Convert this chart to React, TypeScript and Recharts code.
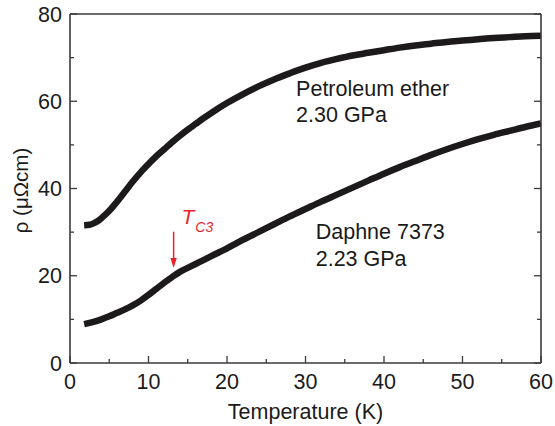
import React from 'react';
import { LineChart, Line, XAxis, YAxis, ReferenceLine, ReferenceDot } from 'recharts';

const petroleumT = [1.8, 2.5, 3, 3.5, 4, 4.5, 5, 6, 7, 8, 9, 10, 11, 12, 13, 14, 15, 16, 17, 18, 19, 20, 22, 24, 26, 28, 30, 32, 34, 36, 38, 40, 42, 44, 46, 48, 50, 52, 54, 56, 58, 60];
const petroleumRho = [31.6, 31.7, 32.0, 32.5, 33.2, 34.0, 34.9, 37.0, 39.3, 41.6, 43.7, 45.6, 47.4, 49.0, 50.6, 52.1, 53.5, 54.8, 56.1, 57.3, 58.5, 59.6, 61.6, 63.4, 65.0, 66.4, 67.7, 68.8, 69.7, 70.5, 71.1, 71.7, 72.3, 72.8, 73.2, 73.6, 73.9, 74.2, 74.5, 74.7, 74.9, 75.0];

const daphneT = [1.8, 3, 4, 5, 6, 7, 8, 9, 10, 11, 12, 13, 14, 15, 16, 17, 18, 20, 22, 24, 26, 28, 30, 32, 34, 36, 38, 40, 42, 44, 46, 48, 50, 52, 54, 56, 58, 60];
const daphneRho = [8.9, 9.4, 10.0, 10.7, 11.5, 12.3, 13.2, 14.3, 15.6, 17.0, 18.4, 19.7, 20.9, 21.8, 22.7, 23.6, 24.5, 26.3, 28.2, 30.0, 31.8, 33.6, 35.3, 37.0, 38.6, 40.2, 41.8, 43.4, 44.9, 46.3, 47.7, 49.0, 50.2, 51.3, 52.3, 53.2, 54.1, 54.9];

const xTicks = [0, 5, 10, 15, 20, 25, 30, 35, 40, 45, 50, 55, 60];
const yTicks = [0, 10, 20, 30, 40, 50, 60, 70, 80];
const xLabelEvery = 10;
const yLabelEvery = 20;

const petroleumLabel = ['Petroleum ether', '2.30 GPa'];
const daphneLabel = ['Daphne 7373', '2.23 GPa'];
const tcMain = 'T';
const tcSub = 'C3';
const tcT = 13.2;
const tcArrowTop = 30.1;
const tcArrowTip = 21.8;

const petroleumData = petroleumT.map((t, i) => ({ T: t, rho: petroleumRho[i] }));
const daphneData = daphneT.map((t, i) => ({ T: t, rho: daphneRho[i] }));

const FONT = '"Liberation Sans", Arial, Helvetica, sans-serif';
const FS = 21.5;
const AXIS = '#3a3a3a';
const RED = '#e8232b';
const INK = '#1c1a1a';

const BottomTick = (p: any) => {
  const v = p.payload.value;
  const major = v % xLabelEvery === 0;
  return (
    <g>
      <line x1={p.x} x2={p.x} y1={p.y} y2={p.y - (major ? 7 : 4)} stroke={AXIS} strokeWidth={1.3} />
      {major && (
        <text x={p.x} y={p.y + 26} textAnchor="middle" fontSize={FS} fontFamily={FONT} fill="#1a1a1a">{v}</text>
      )}
    </g>
  );
};
const TopTick = (p: any) => {
  const major = p.payload.value % xLabelEvery === 0;
  return <line x1={p.x} x2={p.x} y1={p.y} y2={p.y + (major ? 7 : 4)} stroke={AXIS} strokeWidth={1.3} />;
};
const LeftTick = (p: any) => {
  const v = p.payload.value;
  const major = v % yLabelEvery === 0;
  return (
    <g>
      <line x1={p.x} x2={p.x + (major ? 7 : 4)} y1={p.y} y2={p.y} stroke={AXIS} strokeWidth={1.3} />
      {major && (
        <text x={p.x - 8} y={p.y + 7.5} textAnchor="end" fontSize={FS} fontFamily={FONT} fill="#1a1a1a">{v}</text>
      )}
    </g>
  );
};
const RightTick = (p: any) => {
  const major = p.payload.value % yLabelEvery === 0;
  return <line x1={p.x} x2={p.x - (major ? 7 : 4)} y1={p.y} y2={p.y} stroke={AXIS} strokeWidth={1.3} />;
};

const textShape = (lines: string[], gap: number) => (p: any) => (
  <text x={p.cx} y={p.cy} fontSize={FS} fontFamily={FONT} fill="#1a1a1a">
    {lines.map((l, i) => (
      <tspan key={i} x={p.cx} dy={i === 0 ? 0 : gap}>{l}</tspan>
    ))}
  </text>
);

const arrowHead = (p: any) => (
  <polygon points={`${p.cx},${p.cy} ${p.cx - 3.2},${p.cy - 10} ${p.cx + 3.2},${p.cy - 10}`} fill={RED} />
);

const tcShape = (p: any) => (
  <text x={p.cx} y={p.cy} fontFamily={FONT} fill={RED} fontStyle="italic">
    <tspan fontSize={21}>{tcMain}</tspan>
    <tspan fontSize={14} dx={1} dy={8}>{tcSub}</tspan>
  </text>
);

export default function App() {
  return (
    <div style={{ position: 'absolute', left: 0, top: 0, background: '#fff' }}>
      <LineChart width={555} height={426} margin={{ top: 0, right: 0, bottom: 0, left: 0 }}>
        <XAxis
          dataKey="T"
          type="number"
          domain={[0, 60]}
          ticks={xTicks}
          interval={0}
          allowDataOverflow
          height={63}
          tickSize={0}
          tickMargin={0}
          tickLine={false}
          tick={BottomTick}
          axisLine={{ stroke: AXIS, strokeWidth: 1.6 }}
          label={{ value: 'Temperature (K)', position: 'insideBottom', offset: 7, fontSize: FS, fontFamily: FONT, fill: '#1a1a1a' }}
        />
        <XAxis
          xAxisId="top"
          orientation="top"
          type="number"
          domain={[0, 60]}
          ticks={xTicks}
          interval={0}
          allowDataOverflow
          height={14}
          tickSize={0}
          tickMargin={0}
          tickLine={false}
          tick={TopTick}
          axisLine={{ stroke: AXIS, strokeWidth: 1.6 }}
        />
        <YAxis
          type="number"
          domain={[0, 80]}
          ticks={yTicks}
          interval={0}
          allowDataOverflow
          width={70}
          tickSize={0}
          tickMargin={0}
          tickLine={false}
          tick={LeftTick}
          axisLine={{ stroke: AXIS, strokeWidth: 1.6 }}
          label={{
            content: (props: any) => {
              const vb = props.viewBox;
              const cx = vb.x + 28;
              const cy = vb.y + vb.height / 2 + 2;
              return (
                <text x={cx} y={cy} transform={`rotate(-90 ${cx} ${cy})`} textAnchor="middle" fontSize={20.5} fontFamily={FONT} fill="#1a1a1a">
                  ρ (μΩcm)
                </text>
              );
            },
          }}
        />
        <YAxis
          yAxisId="right"
          orientation="right"
          type="number"
          domain={[0, 80]}
          ticks={yTicks}
          interval={0}
          allowDataOverflow
          width={14}
          tickSize={0}
          tickMargin={0}
          tickLine={false}
          tick={RightTick}
          axisLine={{ stroke: AXIS, strokeWidth: 1.6 }}
        />
        <Line data={petroleumData} dataKey="rho" type="monotone" stroke={INK} strokeWidth={6.5} dot={false} isAnimationActive={false} />
        <Line data={daphneData} dataKey="rho" type="monotone" stroke={INK} strokeWidth={6.5} dot={false} isAnimationActive={false} />
        <ReferenceLine segment={[{ x: tcT, y: tcArrowTop }, { x: tcT, y: tcArrowTip + 2 }]} stroke={RED} strokeWidth={1.5} />
        <ReferenceDot x={tcT} y={tcArrowTip} r={0} shape={arrowHead} />
        <ReferenceDot x={14.2} y={31.9} r={0} shape={tcShape} />
        <ReferenceDot x={28.8} y={61.2} r={0} shape={textShape(petroleumLabel, 26)} />
        <ReferenceDot x={31.3} y={28.4} r={0} shape={textShape(daphneLabel, 27)} />
      </LineChart>
    </div>
  );
}
